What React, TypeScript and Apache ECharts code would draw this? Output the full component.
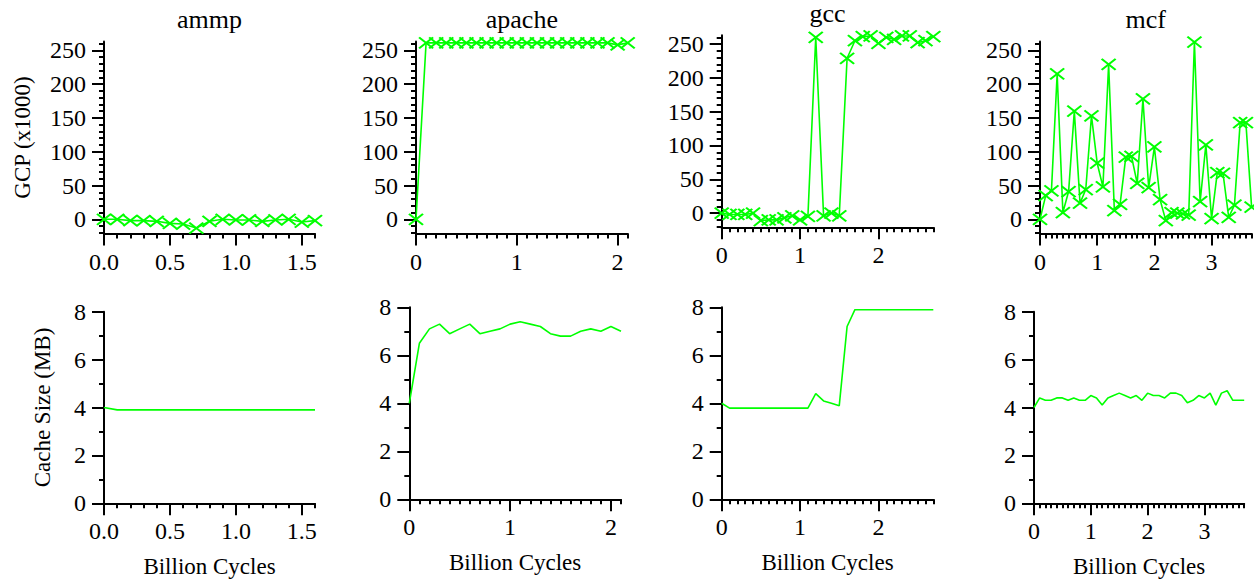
import { useEffect, useRef } from "react";
import * as echarts from "echarts";

// ---------------- data ----------------
const ammpX = [0, 0.1, 0.2, 0.3, 0.4, 0.5, 0.6, 0.7, 0.8, 0.9, 1.0, 1.1, 1.2, 1.3, 1.4, 1.5, 1.6];
const ammpGcp = [0, 0, -2, -2, -3, -6, -7, -13, -3, 0, -1, -1, -3, -1, 0, -4, -2];
const ammpCache = [4.0, 3.9, 3.9, 3.9, 3.9, 3.9, 3.9, 3.9, 3.9, 3.9, 3.9, 3.9, 3.9, 3.9, 3.9, 3.9, 3.9];

const apacheX = [0, 0.1, 0.2, 0.3, 0.4, 0.5, 0.6, 0.7, 0.8, 0.9, 1.0, 1.1, 1.2, 1.3, 1.4, 1.5, 1.6, 1.7, 1.8, 1.9, 2.0, 2.1];
const apacheGcp = [0, 261, 261, 261, 261, 261, 261, 261, 261, 261, 261, 261, 261, 261, 261, 261, 261, 261, 261, 261, 258, 261];
const apacheCache = [4.0, 6.5, 7.1, 7.3, 6.9, 7.1, 7.3, 6.9, 7.0, 7.1, 7.3, 7.4, 7.3, 7.2, 6.9, 6.8, 6.8, 7.0, 7.1, 7.0, 7.2, 7.0];

const gccX = [0, 0.1, 0.2, 0.3, 0.4, 0.5, 0.6, 0.7, 0.8, 0.9, 1.0, 1.1, 1.2, 1.3, 1.4, 1.5, 1.6, 1.7, 1.8, 1.9, 2.0, 2.1, 2.2, 2.3, 2.4, 2.5, 2.6, 2.7];
const gccGcp = [0, -2, -2, -2, 0, -11, -10, -10, -7, -4, -10, -5, 260, -4, 0, -4, 229, 255, 261, 262, 251, 260, 257, 262, 262, 252, 255, 261];
const gccCache = [4.0, 3.8, 3.8, 3.8, 3.8, 3.8, 3.8, 3.8, 3.8, 3.8, 3.8, 3.8, 4.4, 4.1, 4.0, 3.9, 7.2, 7.9, 7.9, 7.9, 7.9, 7.9, 7.9, 7.9, 7.9, 7.9, 7.9, 7.9];

const mcfX = [0, 0.1, 0.2, 0.3, 0.4, 0.5, 0.6, 0.7, 0.8, 0.9, 1.0, 1.1, 1.2, 1.3, 1.4, 1.5, 1.6, 1.7, 1.8, 1.9, 2.0, 2.1, 2.2, 2.3, 2.4, 2.5, 2.6, 2.7, 2.8, 2.9, 3.0, 3.1, 3.2, 3.3, 3.4, 3.5, 3.6, 3.7];
const mcfGcp = [0, 35, 42, 215, 10, 41, 160, 24, 44, 153, 83, 48, 229, 13, 22, 92, 93, 53, 178, 47, 107, 29, -2, 10, 9, 8, 6, 262, 26, 110, 1, 69, 68, 3, 21, 143, 143, 18];
const mcfCache = [4.0, 4.4, 4.3, 4.3, 4.4, 4.4, 4.3, 4.4, 4.3, 4.3, 4.5, 4.4, 4.1, 4.4, 4.5, 4.6, 4.5, 4.4, 4.5, 4.3, 4.6, 4.5, 4.5, 4.4, 4.6, 4.6, 4.5, 4.2, 4.3, 4.5, 4.4, 4.6, 4.1, 4.6, 4.7, 4.3, 4.3, 4.3];

const titles = ["ammp", "apache", "gcc", "mcf"];
const gcpTicks = [0, 50, 100, 150, 200, 250];
const cacheTicks = [0, 2, 4, 6, 8];
const ammpXTicks = [0, 0.5, 1.0, 1.5];
const apacheXTicks = [0, 1, 2];
const gccXTicks = [0, 1, 2];
const mcfXTicks = [0, 1, 2, 3];
const gcpName = "GCP (x1000)";
const cacheName = "Cache Size (MB)";
const xName = "Billion Cycles";

// ---------------- layout / style ----------------
const FONT = "Liberation Serif";
const GREEN = "#00ff00";
const TICK_FS = 24;

function steps(a: number, b: number, s: number): number[] {
  const out: number[] = [];
  const n = Math.round((b - a) / s);
  for (let i = 0; i <= n; i++) out.push(Math.round((a + i * s) * 1000) / 1000);
  return out;
}

type Panel = {
  x: number[];
  y: number[];
  markers: boolean;
  grid: { left: number; top: number; width: number; height: number };
  xMax: number;
  xTicks: number[];
  xDec: number;
  yMin: number;
  yMax: number;
  yTicks: number[];
  yMinor: number[];
  yName?: string;
  yNameGap?: number;
  xName?: string;
  title?: string;
};

const gcpMinor = steps(-20, 260, 10);
const cacheMinor = steps(0, 8, 1);

const panels: Panel[] = [
  { x: ammpX, y: ammpGcp, markers: true, grid: { left: 104, top: 41.5, width: 211, height: 192 }, xMax: 1.6, xTicks: ammpXTicks, xDec: 1, yMin: -21, yMax: 263, yTicks: gcpTicks, yMinor: gcpMinor, yName: gcpName, yNameGap: 70, title: titles[0] },
  { x: apacheX, y: apacheGcp, markers: true, grid: { left: 416, top: 41.5, width: 211.7, height: 192 }, xMax: 2.1, xTicks: apacheXTicks, xDec: 0, yMin: -21, yMax: 263, yTicks: gcpTicks, yMinor: gcpMinor, title: titles[1] },
  { x: gccX, y: gccGcp, markers: true, grid: { left: 721.7, top: 35.3, width: 211.6, height: 192 }, xMax: 2.7, xTicks: gccXTicks, xDec: 0, yMin: -21, yMax: 263, yTicks: gcpTicks, yMinor: gcpMinor, title: titles[2] },
  { x: mcfX, y: mcfGcp, markers: true, grid: { left: 1040, top: 41.5, width: 211.6, height: 192 }, xMax: 3.7, xTicks: mcfXTicks, xDec: 0, yMin: -21, yMax: 263, yTicks: gcpTicks, yMinor: gcpMinor, title: titles[3] },
  { x: ammpX, y: ammpCache, markers: false, grid: { left: 104, top: 311.7, width: 211, height: 191.6 }, xMax: 1.6, xTicks: ammpXTicks, xDec: 1, yMin: 0, yMax: 8, yTicks: cacheTicks, yMinor: cacheMinor, yName: cacheName, yNameGap: 50, xName },
  { x: apacheX, y: apacheCache, markers: false, grid: { left: 409.3, top: 307.3, width: 211.7, height: 192 }, xMax: 2.1, xTicks: apacheXTicks, xDec: 0, yMin: 0, yMax: 8, yTicks: cacheTicks, yMinor: cacheMinor, xName },
  { x: gccX, y: gccCache, markers: false, grid: { left: 721.7, top: 307.3, width: 211.6, height: 192 }, xMax: 2.7, xTicks: gccXTicks, xDec: 0, yMin: 0, yMax: 8, yTicks: cacheTicks, yMinor: cacheMinor, xName },
  { x: mcfX, y: mcfCache, markers: false, grid: { left: 1034, top: 311.7, width: 210.2, height: 191.6 }, xMax: 3.7, xTicks: mcfXTicks, xDec: 0, yMin: 0, yMax: 8, yTicks: cacheTicks, yMinor: cacheMinor, xName },
];

function buildOption() {
  const grid: any[] = [];
  const xAxis: any[] = [];
  const yAxis: any[] = [];
  const series: any[] = [];
  const graphic: any[] = [];
  const axisLineStyle = { color: "#000", width: 2 };
  const labelStyle = { color: "#000", fontFamily: FONT, fontSize: TICK_FS };
  const nameStyle = { color: "#000", fontFamily: FONT, fontSize: 23 };

  panels.forEach((p, i) => {
    grid.push({ ...p.grid, containLabel: false, outerBoundsMode: "none", show: false });
    const xMinor = steps(0, p.xMax, 0.1);
    xAxis.push({
      type: "value", gridIndex: i, position: "bottom", min: 0, max: p.xMax,
      axisLine: { show: true, onZero: false, lineStyle: axisLineStyle },
      axisTick: { show: true, customValues: p.xTicks, length: 12, lineStyle: { color: "#000", width: 2 } },
      axisLabel: { show: true, customValues: p.xTicks, margin: 16, ...labelStyle, formatter: (v: number) => Number(v).toFixed(p.xDec) },
      splitLine: { show: false },
      name: p.xName || "", nameLocation: "middle", nameGap: 52,
      nameTextStyle: nameStyle,
    });
    xAxis.push({
      type: "value", gridIndex: i, position: "bottom", min: 0, max: p.xMax,
      axisLine: { show: false, onZero: false },
      axisTick: { show: true, customValues: xMinor, length: 5, lineStyle: { color: "#000", width: 2 } },
      axisLabel: { show: false },
      splitLine: { show: false },
    });
    yAxis.push({
      type: "value", gridIndex: i, position: "left", min: p.yMin, max: p.yMax,
      axisLine: { show: true, onZero: false, lineStyle: axisLineStyle },
      axisTick: { show: true, customValues: p.yTicks, length: 12, lineStyle: { color: "#000", width: 2 } },
      axisLabel: { show: true, customValues: p.yTicks, margin: 18, ...labelStyle },
      splitLine: { show: false },
      name: p.yName || "", nameLocation: "middle", nameGap: p.yNameGap || 50,
      nameTextStyle: nameStyle,
    });
    yAxis.push({
      type: "value", gridIndex: i, position: "left", min: p.yMin, max: p.yMax,
      axisLine: { show: false, onZero: false },
      axisTick: { show: true, customValues: p.yMinor, length: 5, lineStyle: { color: "#000", width: 2 } },
      axisLabel: { show: false },
      splitLine: { show: false },
    });

    series.push({
      type: "line",
      xAxisIndex: 2 * i,
      yAxisIndex: 2 * i,
      data: p.x.map((xv, k) => [xv, p.y[k]]),
      showSymbol: p.markers,
      symbol: "path://M0,0L12,10M12,0L0,10",
      symbolSize: [14, 11],
      itemStyle: { color: GREEN, borderColor: GREEN, borderWidth: 2 },
      lineStyle: { color: GREEN, width: 1.6 },
      clip: false,
      z: 3,
    });

    if (p.title) {
      graphic.push({
        type: "text",
        x: p.grid.left + p.grid.width / 2,
        y: p.grid.top - 22,
        style: { text: p.title, fontFamily: FONT, fontSize: 26, fill: "#000", align: "center", verticalAlign: "middle" },
      });
    }
  });

  return {
    animation: false,
    backgroundColor: "#ffffff",
    textStyle: { fontFamily: FONT },
    grid,
    xAxis,
    yAxis,
    series,
    graphic,
  };
}

export default function App() {
  const ref = useRef<HTMLDivElement>(null);
  useEffect(() => {
    if (!ref.current) return;
    const chart = echarts.init(ref.current, null, { renderer: "svg" });
    chart.setOption(buildOption() as any);
    return () => chart.dispose();
  }, []);
  return (
    <div
      ref={ref}
      style={{ position: "absolute", left: 0, top: 0, width: 1254, height: 579, background: "#fff" }}
    />
  );
}
